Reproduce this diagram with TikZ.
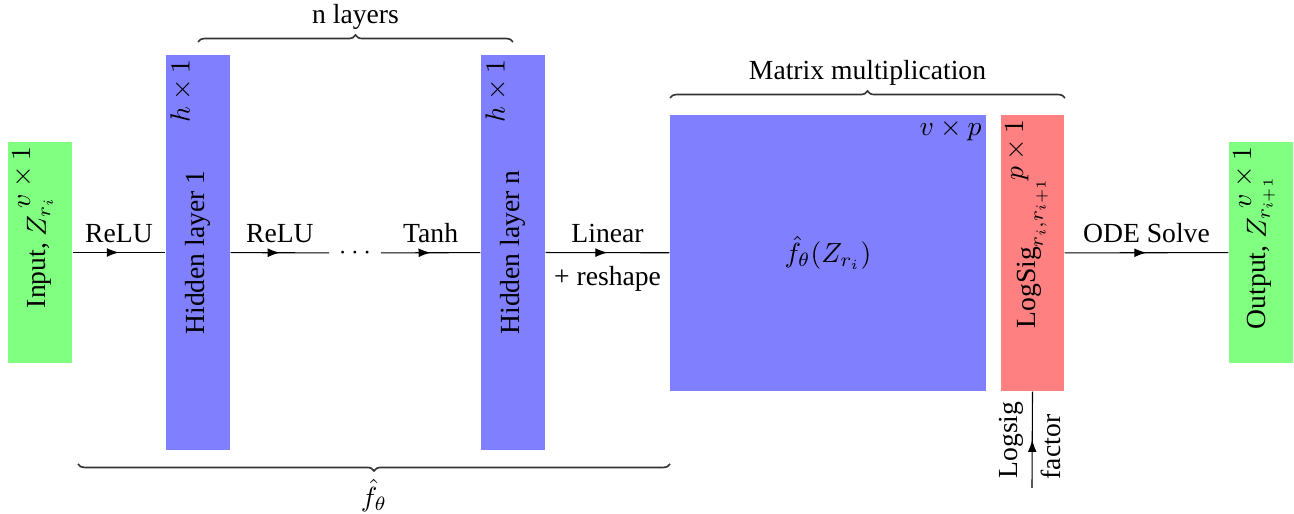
\documentclass[tikz,border=0pt]{standalone}
\usepackage{fontspec}
\setmainfont{Liberation Serif}
\usetikzlibrary{fit,decorations.pathreplacing,decorations.markings,arrows.meta}
\begin{document}
\begin{tikzpicture}[x=0.362pt, y=-0.362pt,
  box/.style={inner sep=0pt, draw=none},
  inbox/.style={box, fill=green!50},
  hbox/.style={box, fill=blue!50},
  lsbox/.style={box, fill=red!50},
  vlabel/.style={rotate=90, inner sep=0pt},
  dimlabel/.style={rotate=90, anchor=north east, inner sep=1.6pt},
  midarrow/.style={postaction={decorate}, decoration={markings, mark=at position 0.5 with {\arrow{Latex[length=4.4pt,width=3.2pt]}}}},
  conn/.style={draw, midarrow},
  bracedeco/.style={decorate, decoration={brace, amplitude=2.5pt}, semithick, black!80},
]
\useasboundingbox (0,0) rectangle (1294,514);

% boxes
\node[inbox, fit={(8,142) (72,363)}] (in) {};
\node[vlabel] at (in.center) {Input, $Z_{r_i}$};
\node[dimlabel] at (in.north west) {$v\times 1$};

\node[hbox, fit={(166,55) (230,450)}] (h1) {};
\node[vlabel] at (h1.center) {Hidden layer 1};
\node[dimlabel] at (h1.north west) {$h\times 1$};

\node[hbox, fit={(481,55) (545,450)}] (hn) {};
\node[vlabel] at (hn.center) {Hidden layer n};
\node[dimlabel] at (hn.north west) {$h\times 1$};

\node[hbox, fit={(670,115) (986,391)}] (mm) {};
\node at (mm.center) {$\hat f_\theta(Z_{r_i})$};
\node[anchor=north east, inner sep=1.6pt] at (mm.north east) {$v\times p$};

\node[lsbox, fit={(1001,115) (1064,391)}] (ls) {};
\node[vlabel] at (ls.center) {$\mathrm{LogSig}_{r_i,r_{i+1}}$};
\node[dimlabel] at (ls.north west) {$p\times 1$};

\node[inbox, fit={(1229,142) (1293,363)}] (out) {};
\node[vlabel] at (out.center) {Output, $Z_{r_{i+1}}$};
\node[dimlabel] at (out.north west) {$v\times 1$};

\node (dots) at (355,253) {$\cdots$};

% connectors
\draw[conn] (in) -- (h1) node[midway, above] {ReLU};
\draw[conn] (h1) -- (dots) node[midway, above] {ReLU};
\draw[conn] (dots) -- (hn) node[midway, above] {Tanh};
\draw[conn] (hn) -- (mm) node[midway, above] {Linear} node[midway, below=1.5pt] {+ reshape};
\draw[conn] (ls) -- (out) node[midway, above] {ODE Solve};

\coordinate (lsf) at (1032,488);
\draw[conn] (lsf) -- (ls.south);
\node[vlabel] (lslab) at (1011,440) {Logsig};
\node[vlabel] (faclab) at (1051,447) {factor};

% braces
\draw[bracedeco] (198,42) -- (513,42) node[midway, above=1pt, black] {n layers};
\draw[bracedeco] (670,98) -- (1065,98) node[midway, above=1pt, black] {Matrix multiplication};
\draw[bracedeco] (670,464) -- (78,464) node[midway, below=2pt, black] {$\hat f_\theta$};
\end{tikzpicture}
\end{document}
